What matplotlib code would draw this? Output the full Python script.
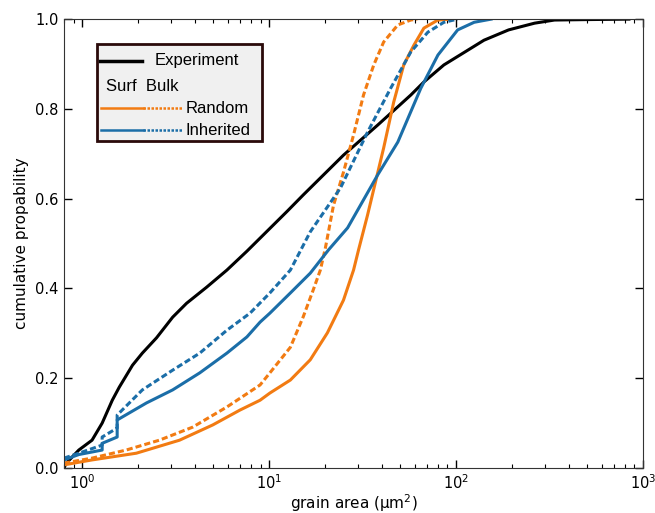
import matplotlib
matplotlib.use('Agg')
import matplotlib.pyplot as plt
from matplotlib.lines import Line2D

# values (grain area in um^2, cumulative probability)
exp_x = [0.80, 0.82, 0.96, 1.13, 1.28, 1.45, 1.58, 1.86, 2.10, 2.50, 3.05, 3.62, 4.64,
         5.95, 7.61, 12.5, 15.2, 25.0, 38.1, 57.3, 67.3, 86.1, 120, 141, 191,
         263, 336, 500, 841]
exp_y = [0.0, 0.010, 0.040, 0.062, 0.100, 0.151, 0.180, 0.229, 0.256, 0.290, 0.336, 0.367,
         0.403, 0.441, 0.483, 0.572, 0.608, 0.697, 0.764, 0.831, 0.860, 0.898, 0.935,
         0.953, 0.976, 0.991, 0.998, 0.999, 1.0]

inh_surf_x = [0.80, 0.96, 1.28, 1.28, 1.54, 1.54, 2.21, 3.05, 4.26, 5.95, 7.61, 8.95, 10.1,
              13.0, 16.6, 20.8, 26.3, 38.1, 48.8, 64.8, 80.0, 102, 125, 154]
inh_surf_y = [0.018, 0.030, 0.040, 0.055, 0.069, 0.107, 0.145, 0.174, 0.212, 0.256, 0.292,
              0.325, 0.345, 0.390, 0.434, 0.486, 0.535, 0.653, 0.726, 0.846, 0.920, 0.976,
              0.993, 1.0]

inh_bulk_x = [0.80, 0.96, 1.28, 1.28, 1.54, 1.54, 2.10, 3.05, 4.26, 5.95, 7.91, 10.1, 13.0,
              16.6, 24.1, 33.6, 44.7, 57.3, 70.7, 86.1, 102]
inh_bulk_y = [0.022, 0.033, 0.051, 0.069, 0.089, 0.118, 0.174, 0.218, 0.256, 0.307, 0.345,
              0.390, 0.441, 0.526, 0.624, 0.748, 0.846, 0.927, 0.971, 0.993, 1.0]

rnd_surf_x = [0.80, 1.13, 1.95, 3.32, 5.0, 6.98, 8.95, 10.1, 13.0, 16.6, 20.5, 25.0, 28.3,
              30.1, 33.6, 41.0, 46.4, 52.5, 59.5, 67.3, 80.0, 94]
rnd_surf_y = [0.007, 0.018, 0.033, 0.062, 0.096, 0.129, 0.151, 0.167, 0.196, 0.241, 0.301,
              0.374, 0.441, 0.486, 0.563, 0.713, 0.815, 0.898, 0.942, 0.980, 0.998, 1.0]

rnd_bulk_x = [0.80, 1.13, 1.72, 2.59, 3.90, 5.95, 8.95, 10.1, 13.0, 15.2, 17.2, 18.8, 20.0,
              22.1, 25.0, 28.3, 32.0, 36.3, 41.0, 48.8, 57.3, 62.0]
rnd_bulk_y = [0.011, 0.022, 0.040, 0.062, 0.091, 0.136, 0.185, 0.212, 0.269, 0.336, 0.396,
              0.441, 0.490, 0.585, 0.659, 0.742, 0.831, 0.898, 0.949, 0.987, 0.998, 1.0]

ORANGE = '#f27b12'
BLUE = '#1b6ea8'
LW = 2.2
DASH = (0, (2.0, 1.0))

fig = plt.figure(figsize=(6.55, 5.13), dpi=100)
ax = fig.add_axes([0.0977, 0.0877, 0.884, 0.875])

ax.plot(exp_x, exp_y, color='black', lw=LW)
ax.plot(rnd_surf_x, rnd_surf_y, color=ORANGE, lw=LW)
ax.plot(rnd_bulk_x, rnd_bulk_y, color=ORANGE, lw=LW, linestyle=DASH)
ax.plot(inh_surf_x, inh_surf_y, color=BLUE, lw=LW)
ax.plot(inh_bulk_x, inh_bulk_y, color=BLUE, lw=LW, linestyle=DASH)

ax.set_xscale('log')
ax.set_xlim(0.8, 1000)
ax.set_ylim(0, 1.0)
ax.set_yticks([0.0, 0.2, 0.4, 0.6, 0.8, 1.0])
ax.set_yticklabels(['0.0', '0.2', '0.4', '0.6', '0.8', '1.0'])
ax.tick_params(which='both', direction='in', top=True, right=True, labelsize=10.5, pad=4)
ax.tick_params(which='major', length=6, width=1)
ax.tick_params(which='minor', length=3, width=0.8)
for s in ax.spines.values():
    s.set_color('#333333')
ax.set_xlabel('grain area (μm$^2$)', fontsize=11, labelpad=0)
ax.set_ylabel('cumulative propability', fontsize=11)

# hand-made legend box
T = ax.transAxes
lf = 'Liberation Sans'
ax.add_patch(plt.Rectangle((0.057, 0.728), 0.285, 0.216, transform=T, facecolor='#f0f0f0',
                           edgecolor='#2a0a0a', lw=2, zorder=5))
ax.add_line(Line2D([0.062, 0.135], [0.907, 0.907], transform=T, color='black', lw=2.5, zorder=6))
ax.text(0.157, 0.907, 'Experiment', transform=T, fontsize=12, family=lf, va='center', zorder=6)
ax.text(0.072, 0.850, 'Surf  Bulk', transform=T, fontsize=12, family=lf, va='center', zorder=6)
for yy, col, lab in [(0.801, ORANGE, 'Random'), (0.752, BLUE, 'Inherited')]:
    ax.add_line(Line2D([0.064, 0.136], [yy, yy], transform=T, color=col, lw=1.8, zorder=6))
    ax.add_line(Line2D([0.136, 0.205], [yy, yy], transform=T, color=col, lw=1.8,
                       linestyle=(0, (1, 0.6)), zorder=6))
    ax.text(0.210, yy, lab, transform=T, fontsize=12, family=lf, va='center', zorder=6)

fig.savefig('out.png', dpi=100)
